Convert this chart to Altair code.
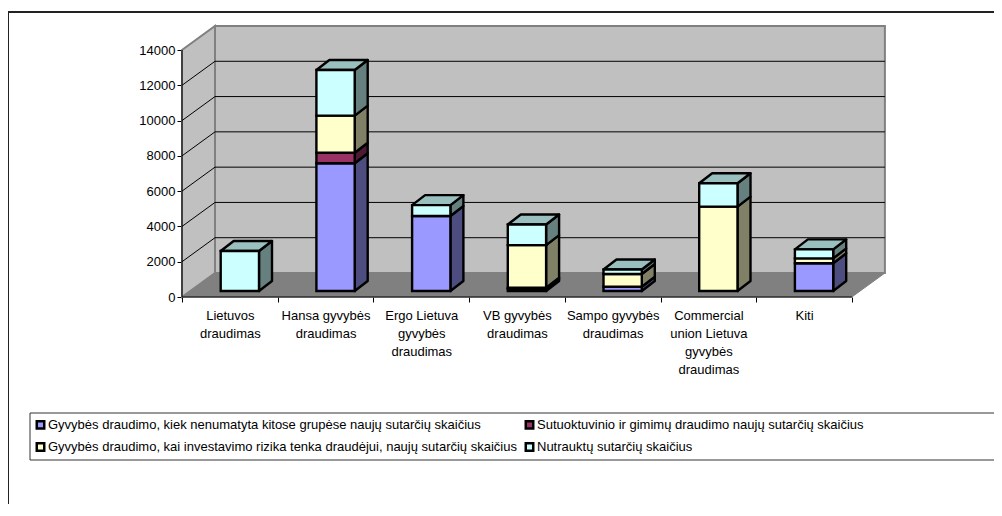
import json
import altair as alt
import pandas as pd

# ---- chart values -------------------------------------------------------
categories = [
    "Lietuvos|draudimas",
    "Hansa gyvybės|draudimas",
    "Ergo Lietuva|gyvybės|draudimas",
    "VB gyvybės|draudimas",
    "Sampo gyvybės|draudimas",
    "Commercial|union Lietuva|gyvybės|draudimas",
    "Kiti",
]
series_names = [
    "Gyvybės draudimo, kiek nenumatyta kitose grupėse naujų sutarčių skaičius",
    "Sutuoktuvinio ir gimimų draudimo naujų sutarčių skaičius",
    "Gyvybės draudimo, kai investavimo rizika tenka draudėjui, naujų sutarčių skaičius",
    "Nutrauktų sutarčių skaičius",
]
life_other = [0, 7240, 4250, 120, 240, 0, 1570]
marriage = [0, 600, 0, 60, 0, 0, 0]
investment = [0, 2100, 0, 2420, 720, 4780, 280]
terminated = [2270, 2590, 620, 1170, 260, 1330, 510]
series_values = [life_other, marriage, investment, terminated]

front_colors = ["#9999FF", "#993366", "#FFFFCC", "#CCFFFF"]
side_colors = ["#4D4D80", "#4D1A33", "#808066", "#668080"]
top_colors = ["#7373BF", "#73264D", "#BFBF99", "#99BFBF"]
y_ticks = [0, 2000, 4000, 6000, 8000, 10000, 12000, 14000]
grid_values = [2000, 4000, 6000, 8000, 10000, 12000]

# ---- scale set-up (pixels of the plot area -> data units) ---------------
W, H = 986, 496
X0_PX, Y0_PX = 174, 289          # where (0, 0) of the chart lies in the plot
X_PER = 95.7                     # px per category
Y_PER = 247 / 14000              # px per contract
xu = lambda px: px / X_PER
yu = lambda px: px / Y_PER

xs = alt.Scale(domain=[xu(-X0_PX), xu(W - X0_PX)], range=[0, W], nice=False, zero=False)
ys = alt.Scale(domain=[yu(Y0_PX - H), yu(Y0_PX)], range=[H, 0], nice=False, zero=False)

WALL_DX, WALL_DY = xu(33), yu(24)
BAR_DX, BAR_DY = xu(13), yu(10)
BAR_W = xu(38.3)
BAR_SHIFT_X, BAR_SHIFT_Y = xu(10), yu(6)
TOP = 14000

# ---- derived tables -----------------------------------------------------
n = len(categories)
fronts, faces = [], []
for i in range(n):
    base = BAR_SHIFT_Y
    x0 = i + 0.5 + BAR_SHIFT_X - BAR_W / 2
    x1 = x0 + BAR_W
    last = max(s for s in range(4) if series_values[s][i] > 0)
    for s in range(4):
        v = series_values[s][i]
        if v <= 0:
            continue
        t = base + v
        fronts.append(dict(x=x0, x2=x1, y=base, y2=t, series=series_names[s], o=i * 10 + s))
        sid = f"side{i}-{s}"
        faces.append(dict(id=sid, kind="side", fill=side_colors[s], x=x1, y=base, y2=t))
        faces.append(dict(id=sid, kind="side", fill=side_colors[s], x=x1 + BAR_DX, y=base + BAR_DY, y2=t + BAR_DY))
        if s == last:
            tid = f"top{i}"
            for xx, a, b in [
                (x0, t, t),
                (x0 + BAR_DX, t, t + BAR_DY),
                (x1, t, t + BAR_DY),
                (x1 + BAR_DX, t + BAR_DY, t + BAR_DY),
            ]:
                faces.append(dict(id=tid, kind="top", fill=top_colors[s], x=xx, y=a, y2=b))
        base = t

fronts = pd.DataFrame(fronts)
faces = pd.DataFrame(faces)

back = pd.DataFrame([dict(x=WALL_DX, x2=7 + WALL_DX, y=WALL_DY, y2=TOP + WALL_DY)])
left = pd.DataFrame([dict(x=0, y=0, y2=TOP), dict(x=WALL_DX, y=WALL_DY, y2=TOP + WALL_DY)])
floor = pd.DataFrame([
    dict(x=0, y=0, y2=0),
    dict(x=WALL_DX, y=0, y2=WALL_DY),
    dict(x=7, y=0, y2=WALL_DY),
    dict(x=7 + WALL_DX, y=WALL_DY, y2=WALL_DY),
])
grid_back = pd.DataFrame([dict(x=WALL_DX, x2=7 + WALL_DX, y=v + WALL_DY) for v in grid_values])
grid_left = pd.DataFrame([dict(x=0, x2=WALL_DX, y=v, y2=v + WALL_DY) for v in grid_values])
axis_h = pd.DataFrame([dict(x=0, x2=7, y=0)])
axis_v = pd.DataFrame([dict(x=0, y=0, y2=TOP)])

# ---- axes ---------------------------------------------------------------
FONT = "Liberation Sans"
FS = 13
labels_js = json.dumps(categories, ensure_ascii=False)
x_axis = alt.Axis(
    values=[i / 2 for i in range(2 * n + 1)],
    labelExpr=f"datum.value % 1 ? split({labels_js}[floor(datum.value)], '|') : ''",
    tickOpacity={"condition": {"test": "datum.value % 1 == 0", "value": 1}, "value": 0},
    orient="bottom", offset=Y0_PX - H, domain=False, grid=False, tickSize=5, tickColor="#000000",
    labelFont=FONT, labelFontSize=FS, labelColor="#000000", labelLineHeight=18, labelPadding=7,
    labelOverlap=False, labelBound=False, labelFlush=False, labelLimit=200, labelBaseline="top",
    title=None,
)
y_axis = alt.Axis(
    values=y_ticks, format="d", orient="left", offset=-X0_PX, domain=False, grid=False,
    tickSize=5, tickColor="#000000", labelFont=FONT, labelFontSize=FS, labelColor="#000000",
    labelPadding=2, labelOverlap=False, labelBound=False, labelFlush=False, title=None,
)


def X(f="x"):
    return alt.X(f"{f}:Q", scale=xs, axis=x_axis)


def Y(f="y"):
    return alt.Y(f"{f}:Q", scale=ys, axis=y_axis, stack=None)


# ---- layers -------------------------------------------------------------
GRAY = "#808080"
wall = alt.Chart(back).mark_rect(fill="#C0C0C0", stroke=GRAY, strokeWidth=2).encode(
    X(), x2="x2:Q", y=Y(), y2="y2:Q")
left_wall = alt.Chart(left).mark_area(fill="#C0C0C0", stroke=GRAY, strokeWidth=2).encode(X(), Y(), y2="y2:Q")
floor_l = alt.Chart(floor).mark_area(fill=GRAY, stroke=GRAY, strokeWidth=1).encode(X(), Y(), y2="y2:Q")
g1 = alt.Chart(grid_back).mark_rule(color="#000000", strokeWidth=1).encode(X(), x2="x2:Q", y=Y())
g2 = alt.Chart(grid_left).mark_rule(color="#000000", strokeWidth=1).encode(X(), x2="x2:Q", y=Y(), y2="y2:Q")
ax1 = alt.Chart(axis_h).mark_rule(color="#000000", strokeWidth=1).encode(X(), x2="x2:Q", y=Y())
ax2 = alt.Chart(axis_v).mark_rule(color="#000000", strokeWidth=1).encode(X(), y=Y(), y2="y2:Q")

side_top = alt.Chart(faces).mark_area(stroke="#000000", strokeWidth=2.4, strokeJoin="round").encode(
    X(), Y(), y2="y2:Q",
    color=alt.Color("fill:N", scale=None),
    detail="id:N",
)
front = alt.Chart(fronts).mark_rect(stroke="#000000", strokeWidth=2.4).encode(
    X(), x2="x2:Q", y=Y(), y2="y2:Q",
    color=alt.Color(
        "series:N",
        scale=alt.Scale(domain=series_names, range=front_colors),
        legend=alt.Legend(
            title=None, orient="none", direction="horizontal", legendX=26, legendY=410, columns=2,
            columnPadding=3, rowPadding=3.5, symbolType="square", symbolSize=56, symbolStrokeWidth=2.5,
            symbolStrokeColor="#000000", labelFont=FONT, labelFontSize=FS, labelColor="#000000",
            labelLimit=600, labelOffset=1, gridAlign="each", padding=0,
        ),
    ),
)

legend_box = alt.Chart(axis_h).mark_rect(fill="#FFFFFF", stroke="#333333", strokeWidth=1).encode(
    x=alt.value(22), x2=alt.value(1000), y=alt.value(405), y2=alt.value(452))
border_t = alt.Chart(axis_h).mark_rule(color="#222222", strokeWidth=2).encode(
    x=alt.value(0), x2=alt.value(W), y=alt.value(4))
border_l = alt.Chart(axis_h).mark_rule(color="#222222", strokeWidth=2).encode(
    x=alt.value(0), y=alt.value(4), y2=alt.value(H))

chart = alt.layer(
    border_t, border_l, legend_box, wall, left_wall, floor_l, g1, g2, ax1, ax2, side_top, front
).resolve_scale(color="independent").properties(
    width=W, height=H, padding=0, background="#FFFFFF",
    autosize=alt.AutoSizeParams(type="none"),
).configure_view(stroke=None)

chart.save("out.html", embed_options={"renderer": "svg", "actions": False})
